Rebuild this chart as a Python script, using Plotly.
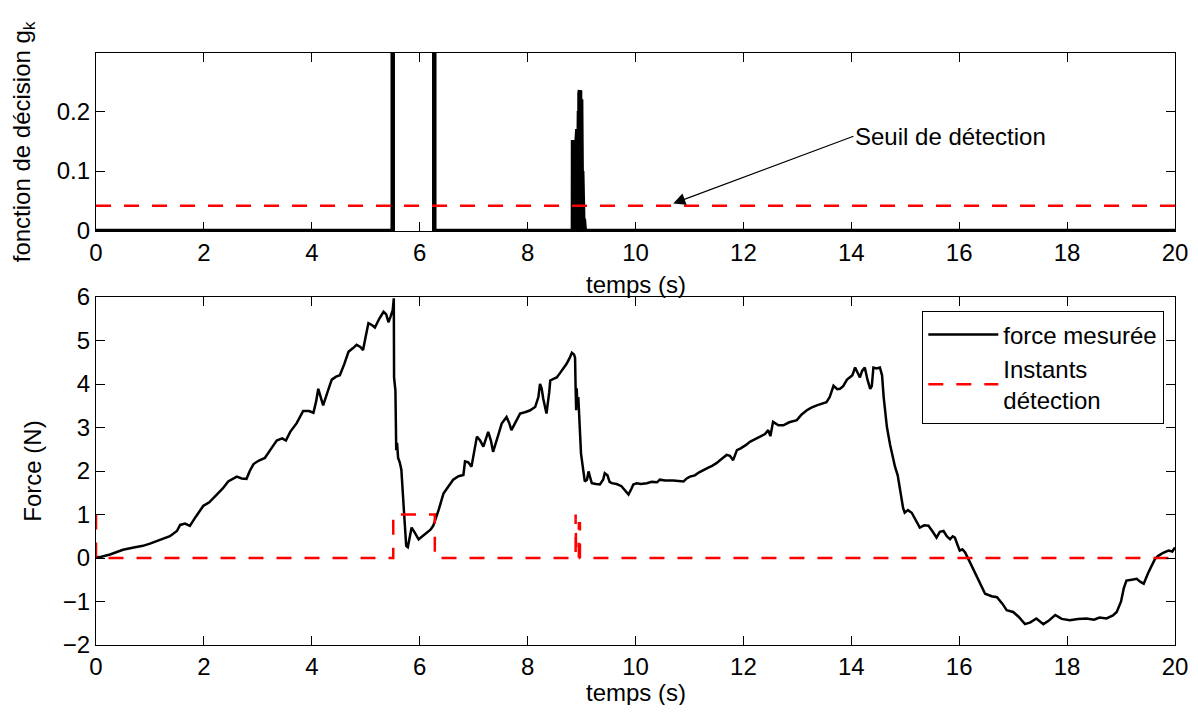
import plotly.graph_objects as go

# ---------------- data ----------------
# decision function g_k (top panel)
g_t = [0.0, 5.50, 5.50, 6.27, 6.27, 8.83]
g_v = [0.0, 0.0, 1.0, 1.0, 0.0, 0.0]
# burst of oscillations around t = 9 s (envelope peaks)
burst_t = [8.840, 8.850, 8.860, 8.870, 8.880, 8.890, 8.900, 8.910, 8.920, 8.930,
           8.940, 8.950, 8.960, 8.970, 8.980, 8.990, 9.000, 9.010, 9.020, 9.030, 9.040]
burst_v = [0.152, 0.150, 0.140, 0.150, 0.130, 0.150, 0.140, 0.150, 0.170, 0.180,
           0.180, 0.200, 0.230, 0.235, 0.235, 0.220, 0.120, 0.100, 0.093, 0.050, 0.020]
g_end_t = [9.06, 20.0]
g_end_v = [0.0, 0.0]
threshold = 0.042

# measured force (bottom panel)
f_t = [0.00, 0.10, 0.26, 0.40, 0.50, 0.70, 0.87, 1.00, 1.12, 1.25, 1.37, 1.50, 1.56, 1.65, 1.74,
       1.85, 1.99, 2.10, 2.24, 2.35, 2.45, 2.61, 2.70, 2.79, 2.85, 2.92, 3.02, 3.13, 3.25, 3.35,
       3.45, 3.52, 3.60, 3.72, 3.84, 3.95, 4.03, 4.08, 4.12, 4.16, 4.21, 4.30, 4.37, 4.45, 4.52,
       4.60, 4.68, 4.76, 4.83, 4.90, 4.95, 5.00, 5.05, 5.12, 5.17, 5.25, 5.33, 5.38, 5.42, 5.46,
       5.50, 5.52, 5.525, 5.55, 5.56, 5.565, 5.58, 5.60, 5.63, 5.66, 5.71, 5.75, 5.78, 5.82, 5.85,
       5.90, 5.98, 6.05, 6.13, 6.20, 6.25, 6.35, 6.44, 6.52, 6.62, 6.72, 6.81, 6.84, 6.90, 6.96,
       7.02, 7.06, 7.12, 7.18, 7.23, 7.27, 7.32, 7.36, 7.45, 7.52, 7.61, 7.66, 7.70, 7.78, 7.86,
       7.95, 8.04, 8.14, 8.20, 8.23, 8.26, 8.29, 8.35, 8.40, 8.42, 8.48, 8.54, 8.60, 8.63, 8.68,
       8.72, 8.78, 8.82, 8.86, 8.88, 8.89, 8.90, 8.91, 8.92, 8.94, 8.96, 8.97, 8.99, 9.03, 9.06,
       9.10, 9.13, 9.16, 9.19, 9.27, 9.34, 9.40, 9.43, 9.48, 9.52, 9.56, 9.65, 9.74, 9.80, 9.87,
       9.92, 9.96, 10.02, 10.10, 10.21, 10.30, 10.40, 10.45, 10.55, 10.70, 10.89, 10.95, 11.01, 11.10, 11.18,
       11.26, 11.35, 11.42, 11.50, 11.60, 11.69, 11.75, 11.81, 11.88, 11.95, 12.05, 12.12, 12.20, 12.31, 12.40,
       12.46, 12.50, 12.55, 12.65, 12.74, 12.85, 12.99, 13.08, 13.17, 13.25, 13.36, 13.45, 13.54, 13.60, 13.67,
       13.74, 13.79, 13.85, 13.92, 13.97, 14.02, 14.07, 14.12, 14.16, 14.20, 14.25, 14.30, 14.35, 14.38, 14.41,
       14.47, 14.53, 14.57, 14.60, 14.66, 14.72, 14.81, 14.86, 14.90, 14.96, 14.99, 15.05, 15.12, 15.20, 15.27,
       15.35, 15.43, 15.50, 15.58, 15.64, 15.71, 15.77, 15.83, 15.88, 15.92, 15.97, 16.01, 16.06, 16.11, 16.20,
       16.32, 16.40, 16.48, 16.60, 16.70, 16.80, 16.88, 17.00, 17.10, 17.22, 17.32, 17.43, 17.50, 17.56, 17.65,
       17.78, 17.90, 18.05, 18.20, 18.36, 18.50, 18.60, 18.73, 18.85, 18.92, 19.00, 19.05, 19.10, 19.20, 19.29,
       19.36, 19.42, 19.50, 19.57, 19.63, 19.69, 19.78, 19.88, 19.95, 20.00]
f_v = [0.02, 0.03, 0.08, 0.14, 0.19, 0.24, 0.28, 0.33, 0.38, 0.44, 0.50, 0.62, 0.76, 0.79, 0.74,
       0.95, 1.20, 1.28, 1.46, 1.60, 1.76, 1.87, 1.83, 1.82, 2.00, 2.16, 2.24, 2.30, 2.52, 2.70,
       2.75, 2.70, 2.90, 3.10, 3.38, 3.38, 3.34, 3.60, 3.89, 3.70, 3.51, 3.85, 4.10, 4.17, 4.20,
       4.45, 4.74, 4.82, 4.90, 4.85, 4.78, 5.10, 5.40, 5.35, 5.30, 5.50, 5.66, 5.60, 5.42, 5.55,
       5.70, 5.97, 4.15, 3.85, 3.00, 2.48, 2.65, 2.30, 2.20, 2.03, 1.04, 0.28, 0.25, 0.55, 0.70,
       0.60, 0.43, 0.50, 0.58, 0.65, 0.74, 1.10, 1.48, 1.62, 1.80, 1.88, 1.91, 2.22, 2.20, 2.10,
       2.50, 2.79, 2.70, 2.56, 2.75, 2.90, 2.70, 2.44, 2.80, 3.09, 3.24, 3.10, 2.94, 3.15, 3.32,
       3.35, 3.39, 3.47, 3.70, 4.00, 3.90, 3.66, 3.32, 3.80, 4.08, 4.12, 4.15, 4.25, 4.30, 4.38,
       4.46, 4.60, 4.72, 4.68, 4.60, 3.90, 3.40, 3.90, 3.60, 3.70, 3.20, 2.86, 2.40, 2.03, 1.76,
       1.80, 1.99, 1.85, 1.72, 1.70, 1.69, 1.80, 1.95, 1.90, 1.75, 1.72, 1.70, 1.65, 1.55, 1.46,
       1.58, 1.69, 1.72, 1.70, 1.72, 1.75, 1.74, 1.80, 1.78, 1.78, 1.76, 1.83, 1.87, 1.90, 1.97,
       2.03, 2.08, 2.12, 2.18, 2.28, 2.37, 2.35, 2.25, 2.48, 2.52, 2.60, 2.67, 2.72, 2.79, 2.85,
       2.94, 2.80, 3.13, 3.05, 3.05, 3.12, 3.17, 3.30, 3.39, 3.45, 3.51, 3.55, 3.58, 3.70, 3.96,
       3.88, 3.89, 3.95, 4.10, 4.15, 4.20, 4.38, 4.25, 4.15, 4.30, 4.38, 4.10, 3.89, 3.95, 4.38,
       4.36, 4.38, 4.20, 3.70, 3.01, 2.60, 2.10, 1.90, 1.60, 1.15, 1.04, 1.10, 1.04, 0.85, 0.70,
       0.75, 0.74, 0.62, 0.47, 0.60, 0.62, 0.50, 0.43, 0.50, 0.47, 0.30, 0.17, 0.20, 0.13, -0.10,
       -0.40, -0.60, -0.82, -0.88, -0.90, -1.05, -1.20, -1.24, -1.35, -1.52, -1.48, -1.39, -1.45, -1.52, -1.45,
       -1.31, -1.40, -1.43, -1.40, -1.39, -1.42, -1.37, -1.39, -1.32, -1.24, -1.00, -0.70, -0.52, -0.50, -0.48,
       -0.55, -0.59, -0.35, -0.18, -0.02, 0.05, 0.12, 0.17, 0.15, 0.24]

# detection instants (0/1 signal)
d_t = [0.0, 0.0, 5.51, 5.51, 6.28, 6.28, 8.89, 8.89, 8.90, 8.90, 8.95, 8.95, 8.97, 8.97, 20.0]
d_v = [1.0, 0.0, 0.0, 1.0, 1.0, 0.0, 0.0, 1.0, 1.0, 0.0, 0.0, 0.8, 0.8, 0.0, 0.0]

x_ticks = list(range(0, 21, 2))
g_ticks = [0, 0.1, 0.2]
g_ticktext = ["0", "0.1", "0.2"]
f_ticks = [-2, -1, 0, 1, 2, 3, 4, 5, 6]

# ---------------- build ----------------
bx, by = [], []
for t, v in zip(burst_t, burst_v):
    bx += [t, t + 0.002, t + 0.005]
    by += [0.0, v, 0.0]
gx = g_t + bx + g_end_t
gy = g_v + by + g_end_v

FONT = "Liberation Sans, Arial, Helvetica, sans-serif"
FS = 24
# page body has an 8px margin: figure is drawn from (8, 8)
OFF = 8
W, H = 1182, 697


def px_x(p):
    return (p - OFF) / W


def px_y(p):
    return 1 - (p - OFF) / H


xl, xr = px_x(96), px_x(1175)
xmid = (xl + xr) / 2

fig = go.Figure()
fig.add_trace(go.Scatter(x=gx, y=gy, mode="lines", line=dict(color="black", width=4.5),
                         showlegend=False, xaxis="x", yaxis="y"))
fig.add_trace(go.Scatter(x=[0, 20], y=[threshold, threshold], mode="lines",
                         line=dict(color="red", width=2.5, dash="15px,13px"),
                         showlegend=False, xaxis="x", yaxis="y"))
fig.add_trace(go.Scatter(x=f_t, y=f_v, mode="lines", name="force mesurée",
                         line=dict(color="black", width=2.5), xaxis="x2", yaxis="y2"))
fig.add_trace(go.Scatter(x=d_t, y=d_v, mode="lines", name="Instants<br>détection",
                         line=dict(color="red", width=2.5, dash="15px,13px"),
                         xaxis="x2", yaxis="y2"))

axis_common = dict(showline=True, linecolor="black", linewidth=1.3, mirror="ticks",
                   ticks="inside", ticklen=9, tickwidth=1.2, tickcolor="black",
                   showgrid=False, zeroline=False, automargin=False,
                   tickfont=dict(family=FONT, size=FS, color="black"))

title_font = dict(family=FONT, size=FS, color="black")

fig.update_layout(
    width=W, height=H,
    margin=dict(l=0, r=0, t=0, b=0),
    paper_bgcolor="white", plot_bgcolor="white",
    font=dict(family=FONT, size=FS, color="black"),
    xaxis=dict(domain=[xl, xr], range=[0, 20], tickvals=x_ticks, anchor="y", **axis_common),
    yaxis=dict(domain=[px_y(231), px_y(53)], range=[0, 0.297], tickvals=g_ticks,
               ticktext=g_ticktext, anchor="x",
               title=dict(text="fonction de décision g<sub>k</sub>", standoff=22, font=title_font),
               **axis_common),
    xaxis2=dict(domain=[xl, xr], range=[0, 20], tickvals=x_ticks, anchor="y2", **axis_common),
    yaxis2=dict(domain=[px_y(645), px_y(297)], range=[-2, 6], tickvals=f_ticks, anchor="x2",
                title=dict(text="Force (N)", standoff=14, font=title_font), **axis_common),
    legend=dict(x=px_x(1164), xanchor="right", y=px_y(311), yanchor="top",
                bgcolor="white", bordercolor="black", borderwidth=1.3, itemwidth=70,
                font=dict(family=FONT, size=FS, color="black"), tracegroupgap=0),
    annotations=[
        dict(x=10.7, y=0.046, xref="x", yref="y", ax=14.04, ay=0.158,
             axref="x", ayref="y", text="Seuil de détection", showarrow=True,
             xanchor="left", yanchor="middle", arrowhead=2, arrowsize=2,
             arrowwidth=1.2, arrowcolor="black", standoff=0, startstandoff=0,
             font=title_font),
        dict(x=xmid, y=px_y(284), xref="paper", yref="paper", text="temps (s)",
             showarrow=False, xanchor="center", yanchor="middle", font=title_font),
        dict(x=xmid, y=px_y(707), xref="paper", yref="paper", text="temps (s)",
             showarrow=False, xanchor="center", yanchor="bottom", borderpad=0,
             font=title_font),
    ],
)

fig.write_html("out.html")
